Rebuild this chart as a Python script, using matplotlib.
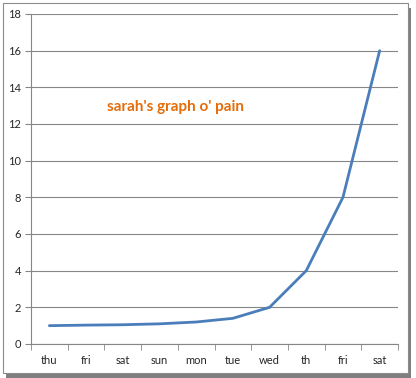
import matplotlib.pyplot as plt
from matplotlib.patches import Rectangle

days = ["thu", "fri", "sat", "sun", "mon", "tue", "wed", "th", "fri", "sat"]
pain = [1.0, 1.03, 1.05, 1.1, 1.2, 1.4, 2, 4, 8, 16]
yticks = [0, 2, 4, 6, 8, 10, 12, 14, 16, 18]

fig = plt.figure(figsize=(4.16, 3.78), dpi=100)

# chart frame with drop shadow
fig.patches.append(Rectangle((6 / 416, 0.5 / 378), 405 / 416, 370 / 378, transform=fig.transFigure,
                             facecolor="#7f7f7f", edgecolor="none", zorder=-3))
fig.patches.append(Rectangle((3 / 416, 5 / 378), 405 / 416, 370 / 378, transform=fig.transFigure,
                             facecolor="white", edgecolor="#8c8c8c", linewidth=0.8, zorder=-2))

ax = fig.add_axes([31 / 416, 34 / 378, 367 / 416, 330 / 378])
ax.set_facecolor("none")
x = list(range(len(days)))
ax.plot(x, pain, color="#4a7ebb", linewidth=2.0, solid_capstyle="round")

ax.set_xlim(-0.5, len(days) - 0.5)
ax.set_ylim(0, 18)
ax.set_yticks(yticks)
ax.set_xticks(x)
ax.set_xticklabels(days)
ax.set_xticks([i - 0.5 for i in range(len(days) + 1)], minor=True)
ax.tick_params(axis="x", which="major", length=0, pad=8, labelsize=8, labelcolor="#262626")
ax.tick_params(axis="x", which="minor", length=4, color="#868686", direction="out")
ax.tick_params(axis="y", length=4, color="#868686", labelsize=8, labelcolor="#262626", pad=3)
for lab in ax.get_xticklabels() + ax.get_yticklabels():
    lab.set_family("Lato")

ax.grid(axis="y", color="#868686", linewidth=0.8)
ax.set_axisbelow(True)
for s in ["top", "right"]:
    ax.spines[s].set_visible(False)
for s in ["left", "bottom"]:
    ax.spines[s].set_color("#868686")
    ax.spines[s].set_linewidth(0.8)

ax.text(3.45, 12.9, "sarah's graph o' pain", color="#e46c0a", fontsize=11,
        fontweight="bold", family="Lato", ha="center", va="center")

fig.savefig("out.png", dpi=100)
